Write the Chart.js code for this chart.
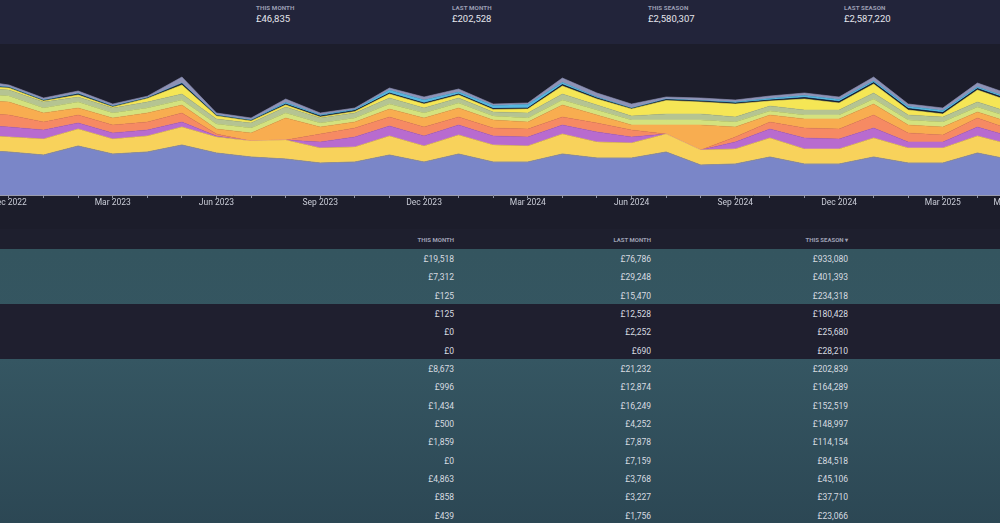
<!DOCTYPE html>
<html>
<head>
<meta charset="utf-8">
<script src="https://cdn.jsdelivr.net/npm/chart.js@4.4.1/dist/chart.umd.min.js"></script>
<style>
  html, body { margin: 0; padding: 0; }
  body {
    width: 1000px; height: 523px; overflow: hidden; position: relative;
    background: #1c1d2b; font-family: Roboto, "Noto Sans", sans-serif;
  }
  .stats { position: absolute; left: 0; top: 0; width: 1000px; height: 44px; background: #22243a; }
  .stat { position: absolute; top: 5px; }
  .stat .lbl { font-size: 6.2px; font-weight: bold; color: #9c9fb4; letter-spacing: 0.1px; line-height: 7px; }
  .stat .val { font-size: 9.5px; color: #e4e5ec; line-height: 12px; margin-top: 1px; }
  .chart-wrap { position: absolute; left: -60px; top: 44px; width: 1120px; height: 170px; }
  .thead { position: absolute; left: 0; top: 229px; width: 1000px; height: 20px; background: #1e1f2e; }
  .th { position: absolute; top: 7px; font-size: 6px; font-weight: bold; color: #9ea1b4; text-align: right; }
  .rows {
    position: absolute; left: 0; top: 249px; width: 1000px;
    background: linear-gradient(to bottom, #34555f 0%, #355662 40%, #2c4754 100%);
  }
  .row { position: relative; height: 18.33px; }
  .row.teal { background: transparent; }
  .row.dark { background: #1f1f2f; }
  .row .td { position: absolute; top: 5px; font-size: 8.5px; color: #d7dbe0; text-align: right; width: 100px; }
</style>
</head>
<body>
<div class="stats" id="stats"></div>
<div class="chart-wrap"><canvas id="area-canvas" width="1120" height="170"></canvas></div>
<div class="thead" id="thead"></div>
<div class="rows" id="rows"></div>

<script>
  // Header stats
  let stat_labels = ['THIS MONTH', 'LAST MONTH', 'THIS SEASON', 'LAST SEASON'];
  let stat_values = ['£46,835', '£202,528', '£2,580,307', '£2,587,220'];

  // Months on the x axis
  let months = ['Nov 2022', 'Dec 2022', 'Jan 2023', 'Feb 2023', 'Mar 2023', 'Apr 2023', 'May 2023', 'Jun 2023',
    'Jul 2023', 'Aug 2023', 'Sep 2023', 'Oct 2023', 'Nov 2023', 'Dec 2023', 'Jan 2024', 'Feb 2024', 'Mar 2024',
    'Apr 2024', 'May 2024', 'Jun 2024', 'Jul 2024', 'Aug 2024', 'Sep 2024', 'Oct 2024', 'Nov 2024', 'Dec 2024',
    'Jan 2025', 'Feb 2025', 'Mar 2025', 'Apr 2025', 'May 2025'];

  // Stacked series (bottom to top), in £k-ish units
  let s1 = [45, 43, 40, 49, 41, 43, 50, 42, 38, 36, 32, 33, 40, 33, 41, 33, 33, 41, 37, 37, 43, 30, 31, 38, 31, 31, 38, 32, 32, 42, 35];
  let s2 = [15, 15, 16, 17, 15, 16, 18, 16, 16, 19, 15, 15, 19, 16, 19, 17, 16, 20, 16, 15, 18, 15, 15, 19, 15, 15, 19, 15, 15, 17, 15];
  let s3 = [10, 10, 9, 6, 6, 6, 5, 1, 0, 0, 6, 10, 10, 10, 10, 9, 9, 9, 10, 6, 0, 0, 7, 9, 11, 10, 10, 6, 6, 9, 8];
  let s4 = [12, 12, 8, 8, 8, 8, 9, 2, 0, 0, 8, 9, 9, 9, 8, 8, 8, 8, 9, 7, 0, 0, 5, 7, 10, 10, 13, 9, 7, 9, 7];
  let s5 = [13, 13, 9, 7, 7, 9, 8, 5, 8, 22, 7, 6, 8, 9, 9, 8, 7, 12, 8, 5, 9, 25, 10, 7, 9, 10, 11, 8, 8, 6, 7];
  let s6 = [6, 6, 5, 6, 5, 5, 5, 5, 5, 5, 4, 4, 5, 5, 5, 4, 4, 5, 5, 5, 5, 5, 5, 4, 4, 4, 5, 5, 5, 5, 5];
  let s7 = [6, 6, 6, 5, 5, 6, 6, 5, 5, 6, 5, 5, 6, 5, 5, 4, 5, 6, 5, 4, 6, 6, 5, 5, 5, 5, 6, 5, 5, 5, 5];
  let s8 = [2, 2, 1, 2, 1, 3.5, 9, 3, 2, 2, 1, 1.5, 4, 4, 3, 2.5, 4, 8, 6, 7, 13.5, 12, 13, 5, 11, 7, 9, 5, 3, 12, 11];
  let s9 = [1, 0.5, 0.5, 1, 0.5, 0.5, 1.5, 0.5, 0.5, 1, 1, 1, 1, 1, 1, 1, 1, 1.5, 1, 0.5, 1, 1, 1, 1, 1.5, 1.5, 1.5, 1.5, 1.5, 1.5, 1.5];
  let s10 = [1, 0.5, 0.5, 0.5, 0.5, 0.3, 0.5, 0.5, 0.5, 1.5, 1, 1, 3, 3, 2, 3, 3.5, 2, 1, 0.5, 0.5, 0.5, 1, 1.5, 2, 2, 1.5, 2, 2, 1.5, 1.5];
  let s11 = [4, 2, 2, 2.5, 2, 1.5, 6, 2, 2, 3.5, 2, 1.5, 2, 3, 3, 1.5, 1.5, 4.5, 4, 4, 2, 2.5, 2, 2.5, 2.5, 2.5, 4, 2.5, 2.5, 4, 4];

  let series = [s1, s2, s3, s4, s5, s6, s7, s8, s9, s10, s11];
  let colours = ['#7a86c8', '#f8d25b', '#b86bcf', '#f68a63', '#f8ad50', '#d4e27e', '#b5c492',
    '#f5e655', '#152038', '#56b7df', '#8e92b6'];

  // Table columns
  let col_titles = ['THIS MONTH', 'LAST MONTH', 'THIS SEASON \u25BE'];
  let this_month = ['£19,518', '£7,312', '£125', '£125', '£0', '£0', '£8,673', '£996', '£1,434', '£500', '£1,859', '£0', '£4,863', '£858', '£439'];
  let last_month = ['£76,786', '£29,248', '£15,470', '£12,528', '£2,252', '£690', '£21,232', '£12,874', '£16,249', '£4,252', '£7,878', '£7,159', '£3,768', '£3,227', '£1,756'];
  let this_season = ['£933,080', '£401,393', '£234,318', '£180,428', '£25,680', '£28,210', '£202,839', '£164,289', '£152,519', '£148,997', '£114,154', '£84,518', '£45,106', '£37,710', '£23,066'];
  let row_kind = ['teal', 'teal', 'teal', 'dark', 'dark', 'dark', 'teal', 'teal', 'teal', 'teal', 'teal', 'teal', 'teal', 'teal', 'teal'];

  // Stats strip
  let stats = document.getElementById('stats');
  for (let i = 0; i < stat_labels.length; i++) {
    let d = document.createElement('div');
    d.className = 'stat';
    d.style.left = (256 + i * 196) + 'px';
    d.innerHTML = '<div class="lbl">' + stat_labels[i] + '</div><div class="val">' + stat_values[i] + '</div>';
    stats.appendChild(d);
  }

  // Table
  let col_right = [454, 651, 848];
  let thead = document.getElementById('thead');
  for (let c = 0; c < col_titles.length; c++) {
    let th = document.createElement('div');
    th.className = 'th';
    th.style.left = (col_right[c] - 120) + 'px';
    th.style.width = '120px';
    th.textContent = col_titles[c];
    thead.appendChild(th);
  }
  let rows = document.getElementById('rows');
  let cols = [this_month, last_month, this_season];
  for (let r = 0; r < this_month.length; r++) {
    let row = document.createElement('div');
    row.className = 'row ' + row_kind[r];
    for (let c = 0; c < cols.length; c++) {
      let td = document.createElement('div');
      td.className = 'td';
      td.style.left = (col_right[c] - 100) + 'px';
      td.textContent = cols[c][r];
      row.appendChild(td);
    }
    rows.appendChild(row);
  }

  // Stacked area chart
  let datasets = [];
  for (let i = 0; i < series.length; i++) {
    datasets.push({
      data: series[i],
      backgroundColor: colours[i],
      borderColor: i === 0 ? '#8d8e9e' : colours[i],
      borderWidth: i === 0 ? 1 : 0.6,
      pointRadius: 0,
      tension: 0,
      fill: i === 0 ? 'origin' : '-1'
    });
  }

  let area_ctx = document.getElementById('area-canvas').getContext('2d');
  let area_chart = new Chart(area_ctx, {
    type: 'line',
    data: { labels: months, datasets: datasets },
    options: {
      responsive: false,
      animation: false,
      layout: { padding: { left: 34.4, right: 48, top: 1, bottom: 1 } },
      plugins: { legend: { display: false }, tooltip: { enabled: false } },
      scales: {
        x: {
          afterFit: function(scale) { scale.height = 18; },
          border: { display: true, color: '#9a9cae', width: 1 },
          grid: { drawOnChartArea: false, drawTicks: true, tickLength: 3, tickColor: '#8f92a4' },
          ticks: {
            autoSkip: false, maxRotation: 0, padding: 0,
            color: '#c9ccd7',
            font: { family: 'Roboto', size: 8.5 },
            callback: function(value, index) {
              let m = months[index];
              if (index === months.length - 1) return m;
              if (m.startsWith('Dec') || m.startsWith('Mar') || m.startsWith('Jun') || m.startsWith('Sep')) return m;
              return '';
            }
          }
        },
        y: { display: false, stacked: true, min: 0, max: 150 }
      }
    }
  });
</script>
</body>
</html>
